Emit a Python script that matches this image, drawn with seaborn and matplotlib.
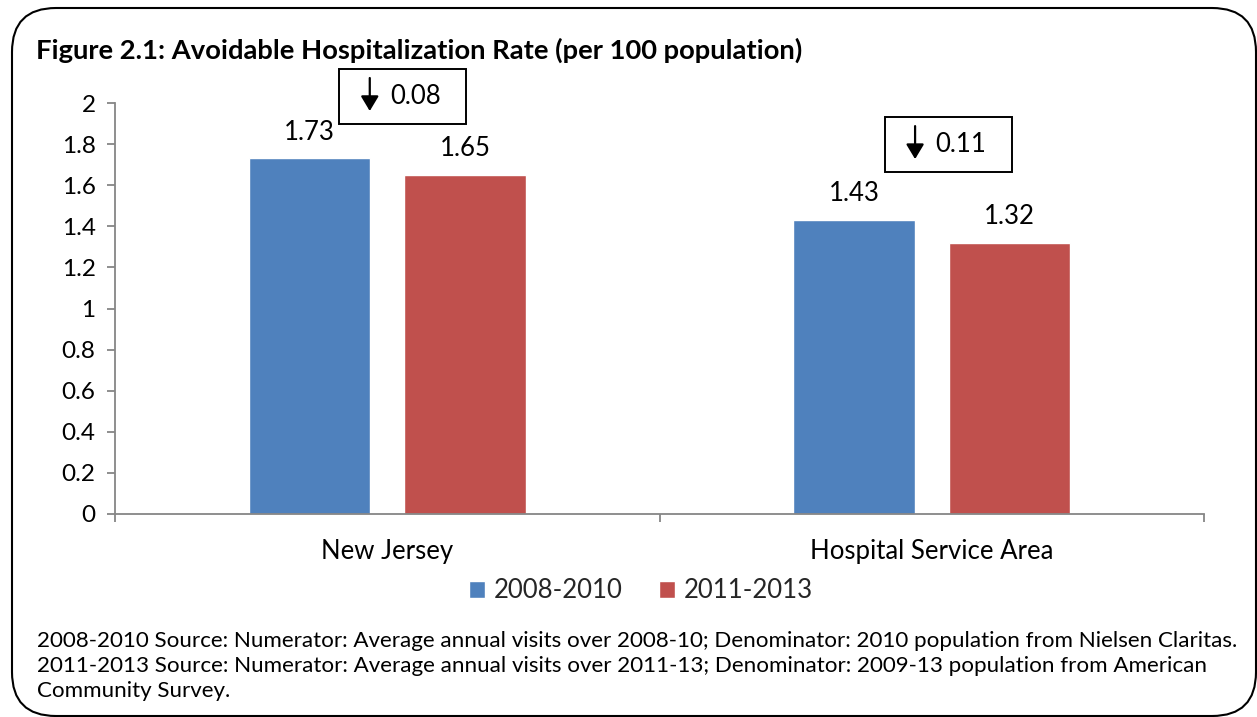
import matplotlib
matplotlib.use("Agg")
import matplotlib.pyplot as plt
import seaborn as sns
import pandas as pd
from matplotlib.patches import FancyBboxPatch, Rectangle
from matplotlib.transforms import offset_copy, IdentityTransform

categories = ["New Jersey", "Hospital Service Area"]
periods = ["2008-2010", "2011-2013"]
values_2008_2010 = [1.73, 1.43]
values_2011_2013 = [1.65, 1.32]
change_labels = ["0.08", "0.11"]
yticks = [0, 0.2, 0.4, 0.6, 0.8, 1, 1.2, 1.4, 1.6, 1.8, 2]
ytick_labels = ["0", "0.2", "0.4", "0.6", "0.8", "1", "1.2", "1.4", "1.6", "1.8", "2"]
colors = ["#4F81BD", "#C0504D"]
title = "Figure 2.1: Avoidable Hospitalization Rate (per 100 population)"
footnote = ("2008-2010 Source: Numerator: Average annual visits over 2008-10; Denominator: 2010 population from Nielsen Claritas.\n"
            "2011-2013 Source: Numerator: Average annual visits over 2011-13; Denominator: 2009-13 population from American\n"
            "Community Survey.")

df = pd.DataFrame({
    "Area": categories * 2,
    "Period": [periods[0]] * 2 + [periods[1]] * 2,
    "Rate": values_2008_2010 + values_2011_2013,
})

sns.set_theme(style="white")
plt.rcParams["font.family"] = ["Lato", "DejaVu Sans"]

W, H = 1257, 717
fig = plt.figure(figsize=(W / 100, H / 100), dpi=100)
ax = fig.add_axes([115 / W, 1 - 514 / H, (1204 - 115) / W, (514 - 103) / H])

sns.barplot(data=df, x="Area", y="Rate", hue="Period", order=categories,
            hue_order=periods, palette=colors, width=0.572, gap=0.22,
            saturation=1, ax=ax, legend=True)

FS = 18.5
for cont in ax.containers:
    ax.bar_label(cont, fmt="%.2f", padding=10, fontsize=FS, color="#000000")

ax.set_xlim(-0.5, 1.5)
ax.set_ylim(0, 2)
ax.set_yticks(yticks)
ax.set_yticklabels(ytick_labels)
ax.set_xlabel("")
ax.set_ylabel("")

gray = "#868686"
for s in ["top", "right"]:
    ax.spines[s].set_visible(False)
for s in ["left", "bottom"]:
    ax.spines[s].set_color(gray)
    ax.spines[s].set_linewidth(1.3)

ax.tick_params(axis="y", which="major", left=True, length=6, width=1.3, color=gray,
               labelsize=17.5, pad=8, labelcolor="#000000")
ax.tick_params(axis="x", which="major", bottom=False, length=0, labelsize=FS,
               pad=18, labelcolor="#000000")
ax.set_xticks([-0.5, 0.5, 1.5], minor=True)
ax.tick_params(axis="x", which="minor", bottom=True, length=6, width=1.3, color=gray)

# change annotation boxes (centre in data coordinates, sizes in pixels)
box_pos = [(0.0285, 2.034), (1.030, 1.80)]
bw, bh = 127, 55
for (bx, by), lab in zip(box_pos, change_labels):
    cx, cy = ax.transData.transform((bx, by))
    ax.add_patch(Rectangle((cx - bw / 2, cy - bh / 2), bw, bh, transform=IdentityTransform(),
                           fc="none", ec="#000000", lw=1.4, clip_on=False, zorder=4))
    ax.text(bx, by, lab, ha="left", va="center", fontsize=FS, color="#000000",
            transform=offset_copy(ax.transData, fig=fig, x=-13, y=0, units="dots"),
            zorder=5, clip_on=False)
    ax.annotate("", xy=(bx, by),
                xycoords=offset_copy(ax.transData, fig=fig, x=-33, y=-15, units="dots"),
                xytext=(bx, by),
                textcoords=offset_copy(ax.transData, fig=fig, x=-33, y=18, units="dots"),
                arrowprops=dict(arrowstyle="-|>,head_length=0.6,head_width=0.36", color="#000000",
                                lw=1.6, mutation_scale=15, shrinkA=0, shrinkB=0),
                annotation_clip=False, zorder=5)

# legend
handles, labels = ax.get_legend_handles_labels()
ax.legend(handles, labels, loc="center", bbox_to_anchor=(641 / W, 1 - 591 / H),
          bbox_transform=fig.transFigure, ncol=2, frameon=False, fontsize=FS,
          handlelength=0.62, handleheight=0.62, handletextpad=0.35, columnspacing=1.4)

fig.text(36 / W, 1 - 50 / H, title, ha="left", va="center", fontsize=19.7,
         fontweight="bold", color="#000000")
fig.text(37 / W, 1 - 631 / H, footnote, ha="left", va="top", fontsize=16.1,
         color="#000000", linespacing=1.3)

frame = FancyBboxPatch((12 / W, 1 - 716 / H), (1256 - 12) / W, (716 - 8) / H,
                       boxstyle="round,pad=0,rounding_size=0.035",
                       transform=fig.transFigure, fc="none", ec="#000000", lw=1.5,
                       mutation_aspect=W / H, clip_on=False)
fig.patches.append(frame)

fig.savefig("out.png", dpi=100)
